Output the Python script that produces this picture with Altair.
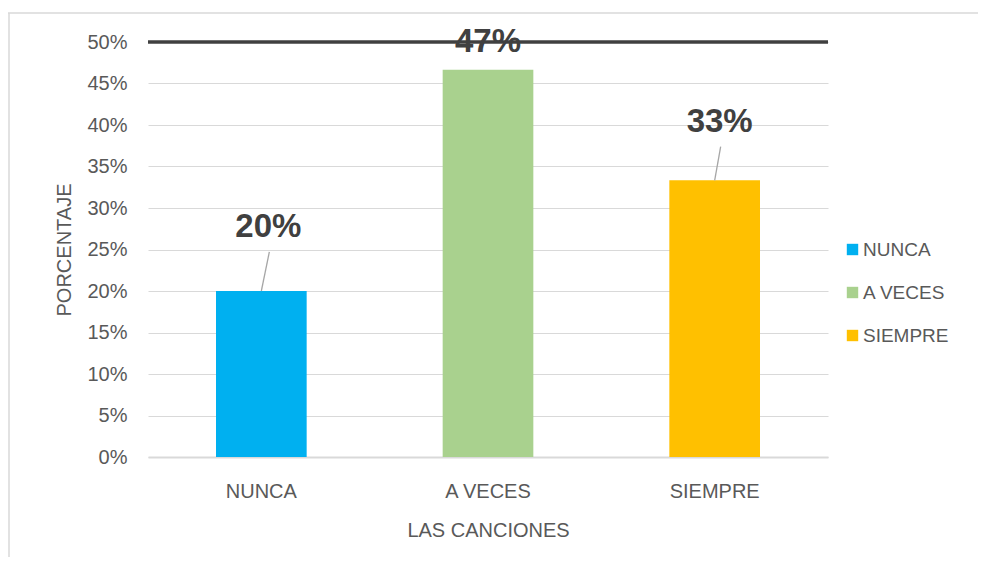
import altair as alt
import pandas as pd

FONT = "Liberation Sans, Arial"

categories = ["NUNCA", "A VECES", "SIEMPRE"]
values = [0.20, 0.4667, 0.3333]
labels = ["20%", "47%", "33%"]
colors = ["#00B0F0", "#A9D18E", "#FFC000"]
label_y = [0.277, 0.50, 0.404]
label_dx = [7, 0, 5]
leader_top = [0.247, None, 0.374]

df = pd.DataFrame({"cat": categories, "val": values, "label": labels,
                   "ly": label_y, "lt": leader_top})

x_enc = alt.X("cat:N", sort=categories,
              scale=alt.Scale(paddingInner=0.6, paddingOuter=0.3),
              axis=alt.Axis(title="LAS CANCIONES", labelAngle=0, ticks=False,
                            labelFontSize=20, labelColor="#595959", labelFont=FONT,
                            labelPadding=24, titleFontSize=20, titleColor="#595959",
                            titleFont=FONT, titleFontWeight="normal", titlePadding=19,
                            domainColor="#d9d9d9", domainWidth=2))
y_enc = alt.Y("val:Q", scale=alt.Scale(domain=[0, 0.5], nice=False),
              axis=alt.Axis(title="PORCENTAJE", format=".0%", values=[i * 0.05 for i in range(11)],
                            ticks=False, domain=False, gridColor="#d9d9d9", gridWidth=1,
                            labelFontSize=20, labelColor="#595959", labelFont=FONT,
                            labelPadding=21, titleFontSize=20, titleColor="#595959",
                            titleFont=FONT, titleFontWeight="normal", titlePadding=12))

bars = alt.Chart(df).mark_bar().encode(
    x=x_enc, y=y_enc,
    color=alt.Color("cat:N", sort=categories,
                    scale=alt.Scale(domain=categories, range=colors),
                    legend=alt.Legend(orient="none", legendX=695, legendY=198, title=None,
                                      symbolType="square", symbolSize=130, symbolStrokeWidth=0,
                                      symbolOpacity=1, labelFontSize=19, labelColor="#595959",
                                      labelFont=FONT, rowPadding=23, labelOffset=1)),
)

top_line = alt.Chart(pd.DataFrame({"v": [0.5]})).mark_rule(
    color="#404040", strokeWidth=3.5).encode(y=alt.Y("v:Q"))

layers = [bars, top_line]
for i, c in enumerate(categories):
    sub = alt.Chart(df).transform_filter(alt.datum.cat == c)
    if leader_top[i] is not None:
        layers.append(sub.mark_rule(color="#a6a6a6", strokeWidth=1.3,
                                    xOffset=label_dx[i] + 1, x2Offset=0).encode(
            x=alt.X("cat:N", sort=categories, bandPosition=0.5),
            x2=alt.X2("cat", bandPosition=0.5),
            y=alt.Y("lt:Q"), y2=alt.Y2("val")))
    layers.append(sub.mark_text(fontSize=33, fontWeight="bold", color="#404040", font=FONT,
                                dx=label_dx[i], baseline="middle").encode(
        x=alt.X("cat:N", sort=categories, bandPosition=0.5),
        y=alt.Y("ly:Q"), text="label:N"))

one = pd.DataFrame({"a": [0]})
border_top = alt.Chart(one).mark_rule(color="#d9d9d9", strokeWidth=1.5).encode(
    x=alt.value(-140), x2=alt.value(900), y=alt.value(-29))
border_left = alt.Chart(one).mark_rule(color="#d9d9d9", strokeWidth=1.5).encode(
    x=alt.value(-139), y=alt.value(-29), y2=alt.value(600))

chart = alt.layer(border_top, border_left, *layers).properties(
    width=680, height=415,
    autosize=alt.AutoSizeParams(type="none"),
    padding={"left": 140, "top": 34, "right": 150, "bottom": 100},
).configure_view(stroke=None)

chart.save("out.html", embed_options={"renderer": "svg", "actions": False})
